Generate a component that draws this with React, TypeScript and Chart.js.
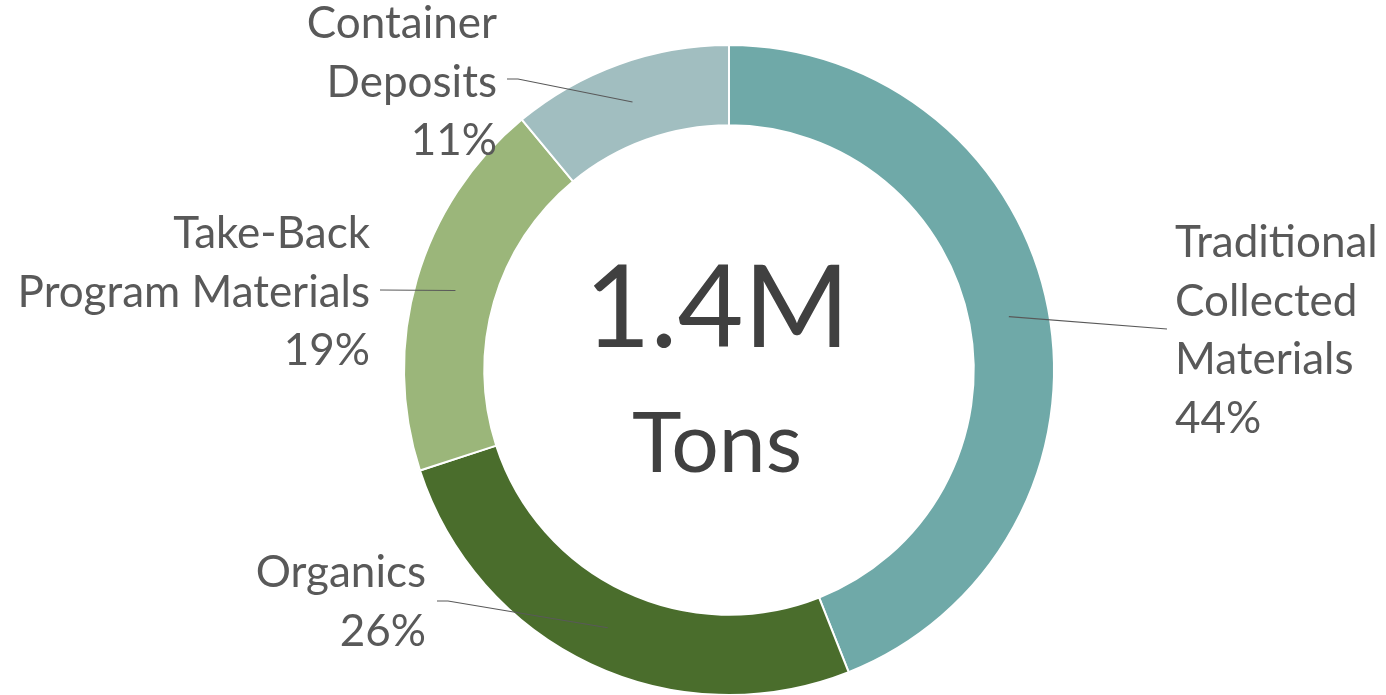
import React, { useEffect, useRef } from 'react';
import { Chart, registerables } from 'chart.js';

Chart.register(...registerables);

// ---- data ----
const categories = [
  'Traditional Collected Materials',
  'Organics',
  'Take-Back Program Materials',
  'Container Deposits',
];
const values = [44, 26, 19, 11];
const colors = ['#6FA9A8', '#4A6D2C', '#9BB67A', '#A1BEC0'];
const labelLines = [
  ['Traditional', 'Collected', 'Materials'],
  ['Organics'],
  ['Take-Back', 'Program Materials'],
  ['Container', 'Deposits'],
];
const centerLines = ['1.4M', 'Tons'];

// ---- layout (positions only) ----
const FONT = 'Lato, "Open Sans", sans-serif';
const LABEL_SIZE = 44;
const LINE_H = 58.5;
const labelLayout = [
  { x: 1175, align: 'left', baseline: 257, elbow: [1167, 329], end: [1167, 329] },
  { x: 426, align: 'right', baseline: 587, elbow: [448, 601], end: [437, 601] },
  { x: 370, align: 'right', baseline: 248, elbow: [380, 290], end: [380, 290] },
  { x: 497, align: 'right', baseline: 38, elbow: [518, 79], end: [507, 79] },
];

const labelPlugin = {
  id: 'outLabels',
  afterDraw(chart: any) {
    const ctx = chart.ctx;
    const meta = chart.getDatasetMeta(0);
    const total = values.reduce((a, b) => a + b, 0);
    ctx.save();
    meta.data.forEach((arc: any, i: number) => {
      const p = arc.getProps(['x', 'y', 'startAngle', 'endAngle', 'innerRadius', 'outerRadius'], true);
      const mid = (p.startAngle + p.endAngle) / 2;
      const r = (p.innerRadius + p.outerRadius) / 2;
      const sx = p.x + Math.cos(mid) * r;
      const sy = p.y + Math.sin(mid) * r;
      const L = labelLayout[i];
      ctx.strokeStyle = '#595959';
      ctx.lineWidth = 1.2;
      ctx.beginPath();
      ctx.moveTo(sx, sy);
      ctx.lineTo(L.elbow[0], L.elbow[1]);
      ctx.lineTo(L.end[0], L.end[1]);
      ctx.stroke();
      ctx.fillStyle = '#595959';
      ctx.font = `${LABEL_SIZE}px ${FONT}`;
      ctx.textAlign = L.align;
      ctx.textBaseline = 'alphabetic';
      const lines = [...labelLines[i], Math.round((values[i] / total) * 100) + '%'];
      lines.forEach((t, k) => ctx.fillText(t, L.x, L.baseline + k * LINE_H));
    });
    // center text
    ctx.fillStyle = '#404040';
    ctx.textAlign = 'center';
    ctx.font = `114px ${FONT}`;
    ctx.fillText(centerLines[0], 717, 347);
    ctx.font = `84px ${FONT}`;
    ctx.fillText(centerLines[1], 717, 472);
    ctx.restore();
  },
};

export default function App() {
  const ref = useRef<HTMLCanvasElement>(null);
  useEffect(() => {
    document.body.style.margin = '0';
    const chart = new Chart(ref.current!, {
      type: 'doughnut',
      data: {
        labels: categories,
        datasets: [
          {
            data: values,
            backgroundColor: colors,
            borderColor: '#FFFFFF',
            borderWidth: 2,
          },
        ],
      },
      options: {
        animation: false,
        responsive: false,
        radius: 325,
        cutout: 244,
        layout: { padding: { left: 404, right: 332, top: 45, bottom: 0 } },
        plugins: { legend: { display: false }, tooltip: { enabled: false } },
      },
      plugins: [labelPlugin],
    });
    return () => chart.destroy();
  }, []);
  return (
    <div style={{ position: 'absolute', left: 0, top: 0, width: 1386, height: 695, background: '#fff' }}>
      <canvas ref={ref} width={1386} height={695} style={{ display: 'block' }} />
    </div>
  );
}
